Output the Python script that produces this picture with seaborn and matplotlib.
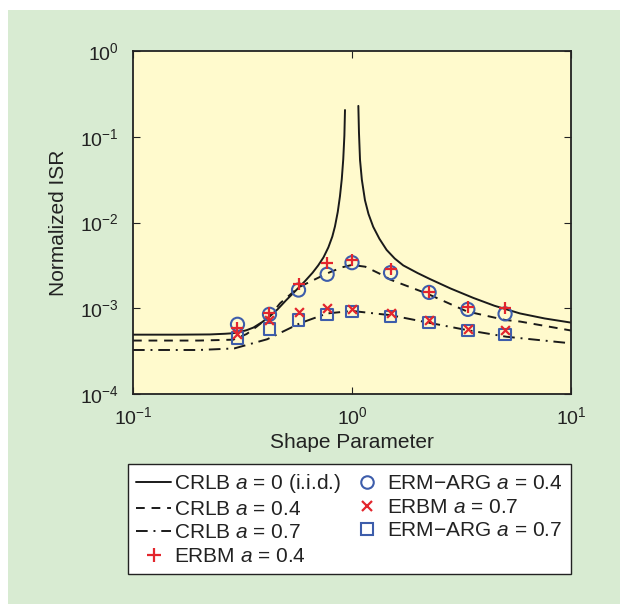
import numpy as np
import pandas as pd
import matplotlib
matplotlib.use("Agg")
import matplotlib.pyplot as plt
import matplotlib.lines as mlines
from matplotlib.patches import Rectangle
import seaborn as sns

# CRLB a = 0 (i.i.d.), left and right branch of the cusp at 1
crlb0_left_x = [0.1, 0.158, 0.224, 0.263, 0.282, 0.302, 0.331, 0.355, 0.389, 0.422, 0.457,
                0.501, 0.550, 0.610, 0.661, 0.701, 0.741, 0.780, 0.813, 0.836, 0.861,
                0.881, 0.898, 0.912, 0.923, 0.929]
crlb0_left_y = [4.92e-4, 4.92e-4, 4.95e-4, 5.04e-4, 5.1e-4, 5.21e-4, 5.56e-4, 5.96e-4,
                6.9e-4, 8.1e-4, 9.7e-4, 1.245e-3, 1.58e-3, 2.07e-3, 2.6e-3, 3.16e-3,
                3.92e-3, 5.13e-3, 6.85e-3, 9.0e-3, 1.33e-2, 2.02e-2, 3.2e-2, 5.45e-2,
                1.03e-1, 2.05e-1]
crlb0_right_x = [1.069, 1.076, 1.088, 1.109, 1.146, 1.189, 1.25, 1.334, 1.439, 1.567,
                 1.714, 1.995, 2.27, 2.818, 3.581, 4.467, 5.848, 7.586, 10.0]
crlb0_right_y = [2.29e-1, 1.12e-1, 5.37e-2, 3.16e-2, 1.82e-2, 1.26e-2, 8.9e-3, 6.46e-3,
                 4.79e-3, 3.8e-3, 3.16e-3, 2.57e-3, 2.19e-3, 1.7e-3, 1.32e-3, 1.07e-3,
                 8.7e-4, 7.6e-4, 6.8e-4]

# CRLB a = 0.4
crlb4_x = [0.1, 0.2, 0.287, 0.33, 0.367, 0.42, 0.469, 0.57, 0.77, 0.9, 1.0, 1.15, 1.35,
           1.5, 2.19, 3.34, 5.0, 5.85, 10.0]
crlb4_y = [4.2e-4, 4.2e-4, 4.3e-4, 5.0e-4, 6.1e-4, 8.0e-4, 1.14e-3, 1.75e-3, 2.55e-3,
           3.0e-3, 3.2e-3, 3.05e-3, 2.5e-3, 2.15e-3, 1.49e-3, 9.2e-4, 7.3e-4, 7.0e-4, 5.5e-4]

# CRLB a = 0.7
crlb7_x = [0.1, 0.2, 0.29, 0.41, 0.58, 0.77, 1.0, 1.5, 2.23, 3.34, 5.08, 10.0]
crlb7_y = [3.26e-4, 3.26e-4, 3.4e-4, 4.35e-4, 6.7e-4, 8.7e-4, 9.3e-4, 8.3e-4, 6.8e-4,
           5.57e-4, 4.65e-4, 3.9e-4]

# simulated points
shape_pts = [0.3, 0.42, 0.57, 0.77, 1.0, 1.5, 2.25, 3.38, 5.0]
erbm4 = [5.9e-4, 8.7e-4, 1.9e-3, 3.4e-3, 3.7e-3, 2.9e-3, 1.55e-3, 1.04e-3, 1.0e-3]
ermarg4 = [6.5e-4, 8.5e-4, 1.63e-3, 2.49e-3, 3.4e-3, 2.6e-3, 1.53e-3, 9.7e-4, 8.6e-4]
erbm7 = [5.0e-4, 7.2e-4, 9.1e-4, 1.0e-3, 9.7e-4, 8.7e-4, 7.3e-4, 5.8e-4, 5.6e-4]
ermarg7 = [4.5e-4, 5.7e-4, 7.3e-4, 8.5e-4, 9.1e-4, 8.0e-4, 6.8e-4, 5.5e-4, 4.97e-4]

labels = ["CRLB $a$ = 0 (i.i.d.)", "CRLB $a$ = 0.4", "CRLB $a$ = 0.7", "ERBM $a$ = 0.4",
          "ERM\u2212ARG $a$ = 0.4", "ERBM $a$ = 0.7", "ERM\u2212ARG $a$ = 0.7"]

red = "#e3262d"
blue = "#3d5dab"
ink = "#222222"

sns.set_style("ticks")
plt.rcParams["font.family"] = ["Liberation Sans", "DejaVu Sans"]
plt.rcParams["mathtext.fontset"] = "custom"
plt.rcParams["mathtext.rm"] = "Liberation Sans"
plt.rcParams["mathtext.it"] = "Liberation Sans:italic"

fig = plt.figure(figsize=(6.2, 6.04), dpi=100, facecolor="white")
fig.patches.append(Rectangle((8 / 620, 0), 1, (604 - 10) / 604, transform=fig.transFigure,
                             facecolor="#d8ebd2", edgecolor="none", zorder=-10))
ax = fig.add_axes([133 / 620, (604 - 394) / 604, 438 / 620, 343 / 604])
ax.set_facecolor("#fffacd")

lw = 1.4
dash = (0, (4.5, 3.5))
dashdot = (0, (6, 3, 1, 3))
sns.lineplot(x=crlb0_left_x, y=crlb0_left_y, ax=ax, color="#1a1a1a", lw=lw, sort=False)
sns.lineplot(x=crlb0_right_x, y=crlb0_right_y, ax=ax, color="#1a1a1a", lw=lw, sort=False)
sns.lineplot(x=crlb4_x, y=crlb4_y, ax=ax, color="#1a1a1a", lw=lw, sort=False,
             dashes=False, linestyle=dash)
sns.lineplot(x=crlb7_x, y=crlb7_y, ax=ax, color="#1a1a1a", lw=lw, sort=False,
             dashes=False, linestyle=dashdot)

sns.scatterplot(x=shape_pts, y=ermarg4, ax=ax, marker="o", s=90, facecolors="none",
                edgecolors=blue, linewidths=1.5, zorder=3)
sns.scatterplot(x=shape_pts, y=ermarg7, ax=ax, marker="s", s=68, facecolors="none",
                edgecolors=blue, linewidths=1.5, zorder=3)
sns.scatterplot(x=shape_pts, y=erbm4, ax=ax, marker="+", s=75, color=red,
                linewidths=1.6, zorder=4)
sns.scatterplot(x=shape_pts, y=erbm7, ax=ax, marker="x", s=40, color=red,
                linewidths=1.6, zorder=4)

ax.set_xscale("log")
ax.set_yscale("log")
ax.set_xlim(0.1, 10)
ax.set_ylim(1e-4, 1)
ax.minorticks_off()
ax.set_xticks([0.1, 1, 10])
ax.set_yticks([1e-4, 1e-3, 1e-2, 1e-1, 1])
ax.tick_params(direction="in", length=5, width=0.8, top=True, right=True,
               labelsize=14, color=ink, labelcolor=ink)
ax.tick_params(axis="x", pad=9)
ax.tick_params(axis="y", pad=10)
for sp in ax.spines.values():
    sp.set_linewidth(1.3)
    sp.set_color(ink)
ax.set_xlabel("Shape Parameter", fontsize=15, color=ink, labelpad=3)
ax.set_ylabel("Normalized ISR", fontsize=15, color=ink, labelpad=9)

handles = [
    mlines.Line2D([], [], color="#1a1a1a", lw=lw),
    mlines.Line2D([], [], color="#1a1a1a", lw=lw, linestyle=dash),
    mlines.Line2D([], [], color="#1a1a1a", lw=lw, linestyle=dashdot),
    mlines.Line2D([], [], color=red, marker="+", ms=10, mew=1.6, linestyle="none"),
    mlines.Line2D([], [], color=blue, marker="o", ms=9, mew=1.5, mfc="none", linestyle="none"),
    mlines.Line2D([], [], color=red, marker="x", ms=7, mew=1.6, linestyle="none"),
    mlines.Line2D([], [], color=blue, marker="s", ms=8, mew=1.5, mfc="none", linestyle="none"),
]
leg = ax.legend(handles, labels, ncol=2, loc="upper left",
                bbox_to_anchor=(128 / 620, 1 - 464 / 604), bbox_transform=fig.transFigure,
                fontsize=15, frameon=True, fancybox=False, framealpha=1,
                edgecolor=ink, handlelength=1.65, handletextpad=0.15,
                labelspacing=0.22, columnspacing=0.4, borderpad=0.4, borderaxespad=0)
leg.get_frame().set_linewidth(1.0)
for t in leg.get_texts():
    t.set_color(ink)

fig.savefig("out.png", dpi=100, facecolor=fig.get_facecolor())
